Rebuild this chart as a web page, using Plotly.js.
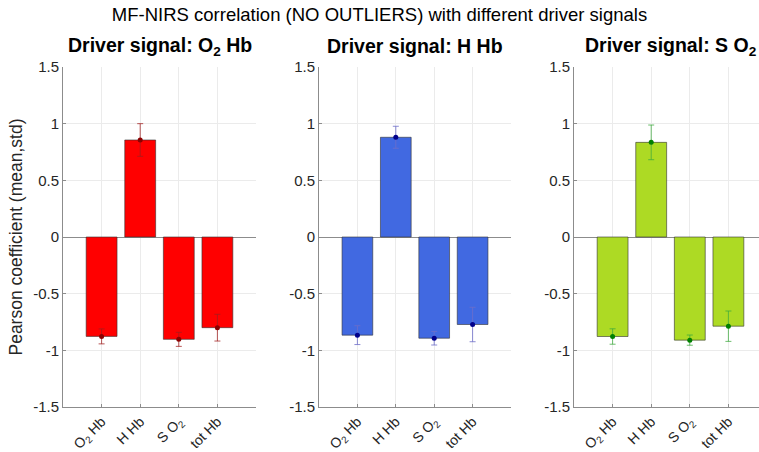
<!DOCTYPE html>
<html><head><meta charset="utf-8">
<script src="https://cdn.plot.ly/plotly-3.0.1.min.js"></script>
<style>html,body{margin:0;padding:0;background:#fff;}#chart{width:759px;height:452px;}</style>
</head><body><div id="chart"></div>
<script>
const categories = ["O<sub>2</sub> Hb", "H Hb", "S O<sub>2</sub>", "tot Hb"];
const xPos = [1, 2, 3, 4];
const panelTitles = ["Driver signal: O<sub>2</sub> Hb", "Driver signal: H Hb", "Driver signal: S O<sub>2</sub>"];
const meanO2Hb = [-0.877, 0.856, -0.903, -0.80];
const stdO2Hb  = [0.066, 0.144, 0.062, 0.118];
const meanHHb  = [-0.866, 0.88, -0.893, -0.772];
const stdHHb   = [0.083, 0.097, 0.06, 0.152];
const meanSO2  = [-0.878, 0.835, -0.91, -0.787];
const stdSO2   = [0.068, 0.153, 0.045, 0.134];
const yTicks = [-1.5, -1, -0.5, 0, 0.5, 1, 1.5];

const means = [meanO2Hb, meanHHb, meanSO2];
const stds = [stdO2Hb, stdHHb, stdSO2];
const barColors = ["#FF0000", "#4169E1", "#ADDA24"];
const dotColors = ["#8B0000", "#00008B", "#008000"];
const errColors = ["rgba(160,30,30,0.75)", "rgba(110,110,200,0.8)", "rgba(60,170,60,0.75)"];
const domainsX = [[63/759, 256/759], [319/759, 511/759], [574/759, 1]];
const rangesX = [[0, 5], [0, 5], [0, 185/38.6]];
const domY = [(452-407)/452, (452-67)/452];

const traces = [];
const layout = {
  width: 759, height: 452,
  margin: {l: 0, r: 0, t: 0, b: 0},
  paper_bgcolor: "#fff", plot_bgcolor: "#fff",
  showlegend: false,
  font: {family: "Liberation Sans, Arial, sans-serif", color: "#262626"},
  title: {text: "MF-NIRS correlation (NO OUTLIERS) with different driver signals",
          font: {size: 18.5, color: "#000"}, x: 0.5, xanchor: "center", y: 0.968, yanchor: "middle"},
  annotations: [],
  shapes: []
};
for (let i = 0; i < 3; i++) {
  const s = i === 0 ? "" : String(i + 1);
  traces.push({
    type: "bar", x: xPos, y: means[i], width: 0.8,
    xaxis: "x" + s, yaxis: "y" + s,
    marker: {color: barColors[i], line: {color: "rgba(50,50,50,0.6)", width: 1}},
    hoverinfo: "skip"
  });
  traces.push({
    type: "scatter", mode: "markers", x: xPos, y: means[i],
    xaxis: "x" + s, yaxis: "y" + s,
    marker: {color: dotColors[i], size: 5},
    error_y: {type: "data", array: stds[i], visible: true, color: errColors[i], thickness: 1, width: 3}
  });
  layout["xaxis" + s] = {
    domain: domainsX[i], range: rangesX[i], anchor: "y" + s,
    tickvals: xPos, ticktext: categories, tickangle: -45,
    tickfont: {size: 14, color: "#262626"},
    showgrid: true, gridcolor: "#ebebeb", gridwidth: 1,
    showline: true, linecolor: "#8c8c8c", linewidth: 1,
    ticks: "inside", ticklen: 3, tickcolor: "#8c8c8c",
    zeroline: false, fixedrange: true
  };
  layout["yaxis" + s] = {
    domain: domY, range: [-1.5, 1.5], anchor: "x" + s,
    tickvals: yTicks, ticktext: yTicks.map(v => String(v)),
    tickfont: {size: 15, color: "#262626"},
    showgrid: true, gridcolor: "#ebebeb", gridwidth: 1,
    showline: true, linecolor: "#8c8c8c", linewidth: 1,
    ticks: "inside", ticklen: 3, tickcolor: "#8c8c8c",
    zeroline: true, zerolinecolor: "#8c8c8c", zerolinewidth: 1,
    fixedrange: true
  };
  layout.annotations.push({
    text: "<b>" + panelTitles[i] + "</b>", xref: "paper", yref: "paper",
    x: i === 2 ? (574 + 96.5) / 759 : (domainsX[i][0] + domainsX[i][1]) / 2,
    y: (452 - 46) / 452, xanchor: "center", yanchor: "middle",
    showarrow: false, font: {size: 19.5, color: "#000"}
  });
}
layout.yaxis.title = {text: "Pearson coefficient (mean,std)", font: {size: 17.5, color: "#262626"}, standoff: 6};
Plotly.newPlot("chart", traces, layout, {staticPlot: true, displayModeBar: false});
</script>
</body></html>
